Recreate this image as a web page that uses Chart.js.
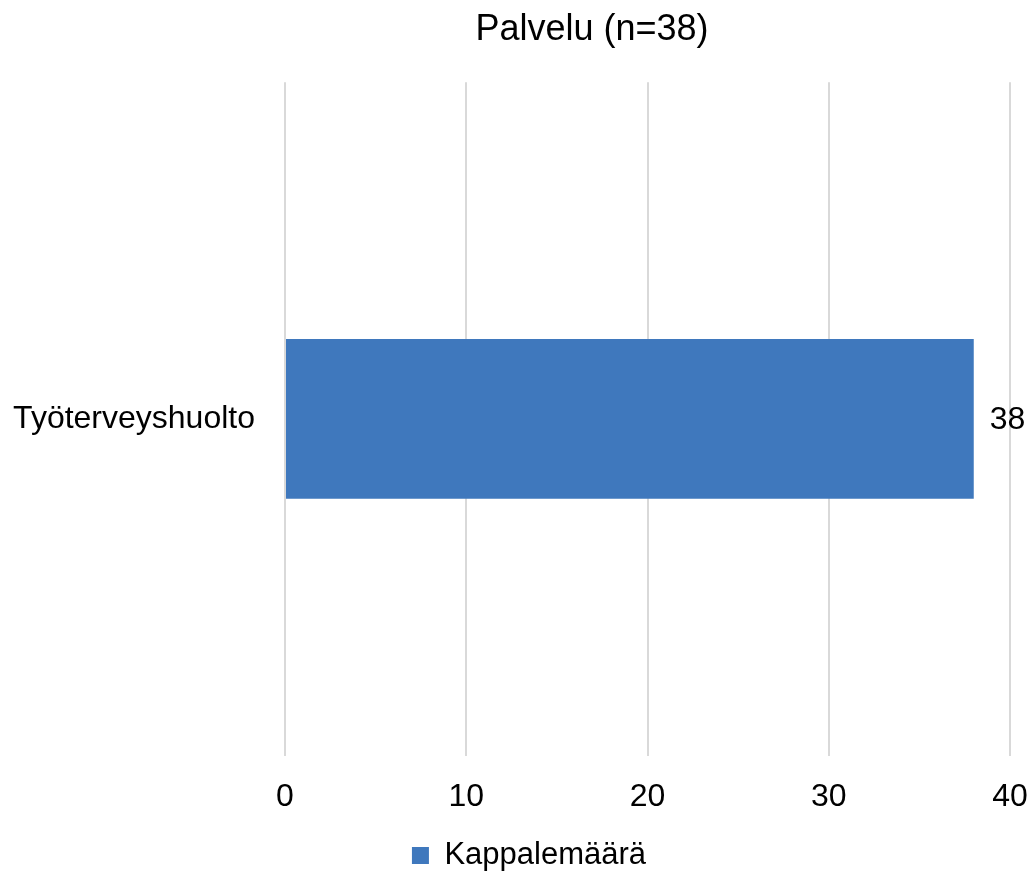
<!DOCTYPE html>
<html>
<head>
<meta charset="utf-8">
<script src="https://cdn.jsdelivr.net/npm/chart.js@4/dist/chart.umd.min.js"></script>
<style>
  html, body { margin: 0; padding: 0; background: #fff; }
  #wrap { width: 1030px; height: 871px; position: relative; }
</style>
</head>
<body>
<div id="wrap"><canvas id="c" width="1030" height="871"></canvas></div>
<script>
const categories = ['Työterveyshuolto'];
const seriesName = 'Kappalemäärä';
const values = [38];
const chartTitle = 'Palvelu (n=38)';
const xMin = 0, xMax = 40, xStep = 10;

const FONT = "'Liberation Sans', Arial, sans-serif";
const TEXT = '#000000';

const valueLabels = {
  id: 'valueLabels',
  afterDatasetsDraw(chart) {
    const ctx = chart.ctx;
    ctx.save();
    ctx.font = '32px ' + FONT;
    ctx.fillStyle = TEXT;
    ctx.textAlign = 'left';
    ctx.textBaseline = 'middle';
    chart.data.datasets.forEach((ds, i) => {
      chart.getDatasetMeta(i).data.forEach((bar, j) => {
        ctx.fillText(String(ds.data[j]), bar.x + 16, bar.y + 1);
      });
    });
    ctx.restore();
  }
};

const blockShift = {
  id: 'blockShift',
  afterLayout(chart) {
    const t = chart.titleBlock;
    if (t) { t.left += 77; t.right += 77; }
    const l = chart.legend;
    if (l) {
      l.left += 14; l.right += 14;
      if (l.legendHitBoxes) l.legendHitBoxes.forEach(h => { h.left += 14; });
    }
  }
};

new Chart(document.getElementById('c'), {
  type: 'bar',
  data: {
    labels: categories,
    datasets: [{
      label: seriesName,
      data: values,
      backgroundColor: '#3f78bd',
      borderWidth: 0,
      barPercentage: 0.2374,
      categoryPercentage: 1.0
    }]
  },
  options: {
    indexAxis: 'y',
    responsive: false,
    animation: false,
    devicePixelRatio: 1,
    layout: { padding: { left: 0, right: 0, top: 0, bottom: -10 } },
    plugins: {
      title: {
        display: true,
        text: chartTitle,
        color: TEXT,
        font: { family: FONT, size: 36, weight: 'normal', lineHeight: 1.2 },
        padding: { top: 8, bottom: 31 }
      },
      legend: {
        display: true,
        position: 'bottom',
        labels: {
          color: TEXT,
          font: { family: FONT, size: 31 },
          boxWidth: 17,
          boxHeight: 17,
          padding: 0
        }
      },
      tooltip: { enabled: false }
    },
    scales: {
      x: {
        min: xMin, max: xMax,
        ticks: { stepSize: xStep, color: TEXT, font: { family: FONT, size: 32 }, padding: 22 },
        grid: { color: '#d9d9d9', lineWidth: 2, drawTicks: false },
        border: { display: false },
        afterFit(scale) { scale.height += 2; scale.paddingRight = 20; scale.paddingLeft = 0; }
      },
      y: {
        ticks: { color: TEXT, font: { family: FONT, size: 32 }, padding: 30 },
        grid: { display: false, drawTicks: false },
        border: { display: false },
        afterFit(scale) { scale.width = 285; }
      }
    }
  },
  plugins: [valueLabels, blockShift]
});
</script>
</body>
</html>
